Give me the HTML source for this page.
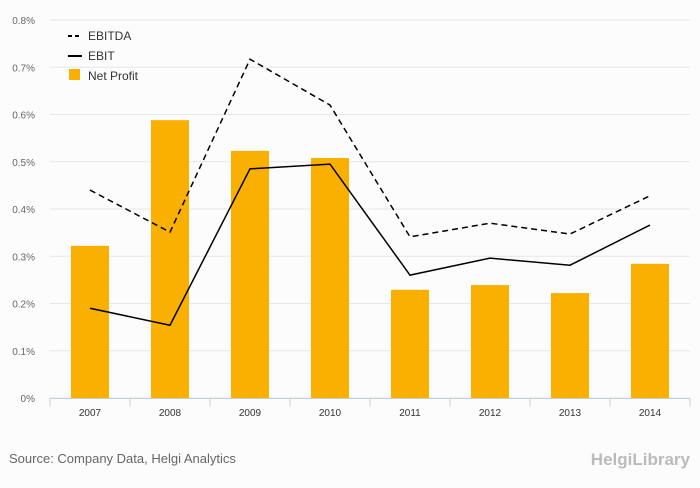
<!DOCTYPE html>
<html><head><meta charset="utf-8"><style>
body{margin:0;background:#fcfcfd;font-family:"Liberation Sans",sans-serif;}
svg text{font-family:"Liberation Sans",sans-serif;}
</style></head><body>
<svg id="chart" width="700" height="483">
<rect x="0" y="0" width="700" height="483" fill="#fcfcfd"/>
<g id="grid"></g><g id="bars"></g><g id="lines"></g><g id="axes"></g>
<g>
<line x1="68" y1="36" x2="82" y2="36" stroke="#000" stroke-width="2" stroke-dasharray="4,3"/>
<text x="88" y="40" font-size="12" fill="#333">EBITDA</text>
<line x1="68" y1="56" x2="82" y2="56" stroke="#000" stroke-width="2"/>
<text x="88" y="60" font-size="12" fill="#333">EBIT</text>
<rect x="69" y="69" width="11" height="11" fill="#f9b000"/>
<text x="88" y="80" font-size="12" fill="#333">Net Profit</text>
</g>
<text x="9" y="463" font-size="13" fill="#666">Source: Company Data, Helgi Analytics</text>
<text x="690" y="465" font-size="17" fill="#bbb" text-anchor="end" font-weight="bold">HelgiLibrary</text>
</svg>
<script>
const categories=["2007","2008","2009","2010","2011","2012","2013","2014"];
const netProfit=[0.322,0.588,0.523,0.508,0.229,0.239,0.222,0.284];
const ebitda=[0.44,0.351,0.717,0.62,0.341,0.37,0.347,0.428];
const ebit=[0.19,0.154,0.485,0.495,0.26,0.296,0.281,0.366];
const yTicks=[0,0.1,0.2,0.3,0.4,0.5,0.6,0.7,0.8];
const NS="http://www.w3.org/2000/svg";
const x0=50,x1=690,yb=398,yt=20;
const y=v=>yb-(v/0.8)*(yb-yt);
const bw=(x1-x0)/categories.length;
const xc=i=>x0+bw*(i+0.5);
function mk(t,a,p){const e=document.createElementNS(NS,t);for(const k in a)e.setAttribute(k,a[k]);p.appendChild(e);return e;}
const grid=document.getElementById('grid'),axes=document.getElementById('axes');
yTicks.forEach(v=>{
 const l=mk('line',{x1:x0,x2:x1,y1:y(v),y2:y(v),stroke:'#e6e6e6'},grid);
 
 
 const t=mk('text',{x:35,y:y(v)+4,'font-size':10,fill:'#666','text-anchor':'end'},axes);
 t.textContent=v===0?'0%':(Math.round(v*10)/10).toFixed(1)+'%';
 
 
});
const ax=mk('line',{x1:x0,x2:x1,y1:yb+0.5,y2:yb+0.5,stroke:'#c0d0e0'},axes);


const tk0=mk('line',{x1:x0,x2:x0,y1:yb,y2:yb+8,stroke:'#c0d0e0'},axes);


const bars=document.getElementById('bars');
categories.forEach((c,i)=>{
 const r=mk('rect',{x:xc(i)-19,y:y(netProfit[i]),width:38,height:yb-y(netProfit[i]),fill:'#f9b000'},bars);
 
 
 const tk=mk('line',{x1:x0+bw*(i+1),x2:x0+bw*(i+1),y1:yb,y2:yb+8,stroke:'#c0d0e0'},axes);
 
 
 const t=mk('text',{x:xc(i),y:416,'font-size':10,fill:'#333','text-anchor':'middle'},axes);
 t.textContent=c;
 
 
});
const lines=document.getElementById('lines');
const p1=mk('polyline',{points:ebitda.map((v,i)=>xc(i)+','+y(v)).join(' '),fill:'none',stroke:'#000','stroke-width':1.5,'stroke-dasharray':'6,4'},lines);


const p2=mk('polyline',{points:ebit.map((v,i)=>xc(i)+','+y(v)).join(' '),fill:'none',stroke:'#000','stroke-width':1.5},lines);


</script>
</body></html>
